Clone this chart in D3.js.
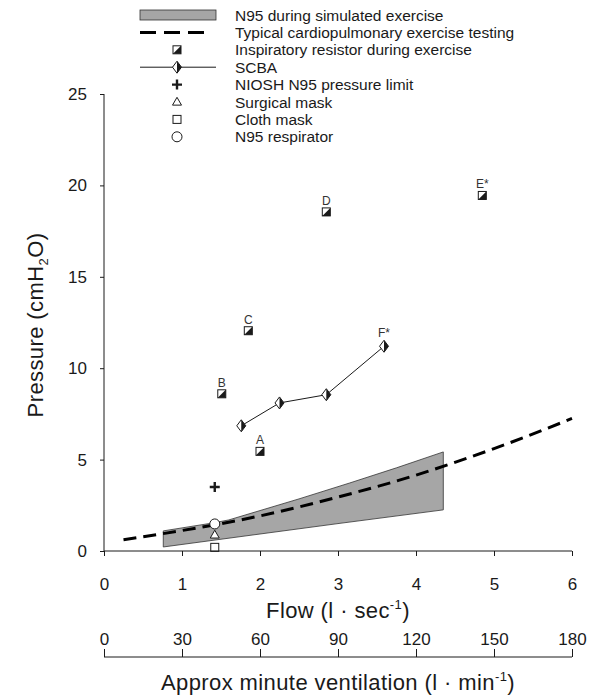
<!DOCTYPE html>
<html>
<head>
<meta charset="utf-8">
<script src="https://cdn.jsdelivr.net/npm/d3@7"></script>
<style>
  body { margin: 0; background: #fff; }
  svg { font-family: "Liberation Sans", Arial, sans-serif; }
</style>
</head>
<body>
<div id="chart"></div>
<script>
// Flow (l/s) vs pressure (cmH2O)
const bandUpper = [[0.76, 1.1], [1.42, 1.55], [1.6, 1.7], [2.5, 2.85], [3.15, 3.72], [3.75, 4.55], [4.35, 5.42]];
const bandLower = [[0.76, 0.22], [2.0, 0.93], [3.0, 1.5], [4.35, 2.25]];
const cpetCurve = [[0.25, 0.62], [1, 1.12], [2, 1.92], [3, 2.95], [4, 4.15], [5, 5.6], [6, 7.25]];
const resistorLabels = ["A", "B", "C", "D", "E*"];
const resistorFlow = [2.0, 1.51, 1.85, 2.85, 4.85];
const resistorPressure = [5.45, 8.6, 12.05, 18.55, 19.45];
const scbaFlow = [1.76, 2.25, 2.85, 3.59];
const scbaPressure = [6.85, 8.1, 8.55, 11.2];
const scbaLabel = "F*";
const nioshPoint = [1.42, 3.5];
const surgicalPoint = [1.42, 0.88];
const clothPoint = [1.42, 0.2];
const n95Point = [1.42, 1.48];
const flowTicks = [0, 1, 2, 3, 4, 5, 6];
const ventTicks = [0, 30, 60, 90, 120, 150, 180];
const pressureTicks = [0, 5, 10, 15, 20, 25];
const legendLabels = [
  "N95 during simulated exercise",
  "Typical cardiopulmonary exercise testing",
  "Inspiratory resistor during exercise",
  "SCBA",
  "NIOSH N95 pressure limit",
  "Surgical mask",
  "Cloth mask",
  "N95 respirator"
];

const width = 590, height = 699;
const ink = "#1a1a1a";

const svg = d3.select("#chart").append("svg")
  .attr("width", width).attr("height", height);

const x = d3.scaleLinear().domain([0, 6]).range([104, 572]);
const x2 = d3.scaleLinear().domain([0, 180]).range([104, 572]);
const y = d3.scaleLinear().domain([0, 25]).range([551, 94]);

// marker helpers
function halfSquare(g, cx, cy, s) {
  g.append("rect").attr("x", cx - s / 2).attr("y", cy - s / 2)
    .attr("width", s).attr("height", s)
    .attr("fill", "#fff").attr("stroke", ink).attr("stroke-width", 1);
  g.append("path")
    .attr("d", `M${cx + s / 2},${cy - s / 2}L${cx + s / 2},${cy + s / 2}L${cx - s / 2},${cy + s / 2}Z`)
    .attr("fill", ink);
}
function halfDiamond(g, cx, cy, w, h) {
  g.append("path")
    .attr("d", `M${cx},${cy - h / 2}L${cx + w / 2},${cy}L${cx},${cy + h / 2}L${cx - w / 2},${cy}Z`)
    .attr("fill", "#fff").attr("stroke", ink).attr("stroke-width", 1);
  g.append("path")
    .attr("d", `M${cx},${cy - h / 2}L${cx + w / 2},${cy}L${cx},${cy + h / 2}Z`)
    .attr("fill", ink);
}
function plus(g, cx, cy, s) {
  g.append("path")
    .attr("d", `M${cx - s / 2},${cy}H${cx + s / 2}M${cx},${cy - s / 2}V${cy + s / 2}`)
    .attr("stroke", ink).attr("stroke-width", 2.4);
}
function triangle(g, cx, cy, s) {
  const h = s * 0.87;
  g.append("path")
    .attr("d", `M${cx},${cy - h * 0.6}L${cx + s / 2},${cy + h * 0.4}L${cx - s / 2},${cy + h * 0.4}Z`)
    .attr("fill", "#fff").attr("stroke", ink).attr("stroke-width", 1);
}
function openSquare(g, cx, cy, s) {
  g.append("rect").attr("x", cx - s / 2).attr("y", cy - s / 2)
    .attr("width", s).attr("height", s)
    .attr("fill", "#fff").attr("stroke", ink).attr("stroke-width", 1);
}
function openCircle(g, cx, cy, r) {
  g.append("circle").attr("cx", cx).attr("cy", cy).attr("r", r)
    .attr("fill", "#fff").attr("stroke", ink).attr("stroke-width", 1);
}

// gray band
const bandPts = bandUpper.concat(bandLower.slice().reverse());
svg.append("path")
  .attr("d", d3.line().x(d => x(d[0])).y(d => y(d[1]))(bandPts) + "Z")
  .attr("fill", "#a6a6a6").attr("stroke", "#333").attr("stroke-width", 0.8);

// dashed CPET curve
svg.append("path")
  .attr("d", d3.line().x(d => x(d[0])).y(d => y(d[1])).curve(d3.curveMonotoneX)(cpetCurve))
  .attr("fill", "none").attr("stroke", "#000").attr("stroke-width", 3)
  .attr("stroke-dasharray", "13,7");

// SCBA line
svg.append("path")
  .attr("d", d3.line().x((d, i) => x(scbaFlow[i])).y((d, i) => y(scbaPressure[i]))(scbaFlow))
  .attr("fill", "none").attr("stroke", ink).attr("stroke-width", 1);

const marks = svg.append("g");
scbaFlow.forEach((f, i) => halfDiamond(marks, x(f), y(scbaPressure[i]), 9, 12));
marks.append("text")
  .attr("x", x(scbaFlow[scbaFlow.length - 1])).attr("y", y(scbaPressure[scbaPressure.length - 1]) - 9)
  .attr("text-anchor", "middle").attr("font-size", 12).attr("fill", "#333").text(scbaLabel);

resistorFlow.forEach((f, i) => {
  halfSquare(marks, x(f), y(resistorPressure[i]), 8);
  marks.append("text")
    .attr("x", x(f)).attr("y", y(resistorPressure[i]) - 7)
    .attr("text-anchor", "middle").attr("font-size", 12).attr("fill", "#333")
    .text(resistorLabels[i]);
});

plus(marks, x(nioshPoint[0]), y(nioshPoint[1]), 10);
openSquare(marks, x(clothPoint[0]), y(clothPoint[1]), 8);
triangle(marks, x(surgicalPoint[0]), y(surgicalPoint[1]), 9);
openCircle(marks, x(n95Point[0]), y(n95Point[1]), 5);

// axes
const axisG = svg.append("g");
axisG.append("g").attr("transform", `translate(0,${y(0)})`)
  .call(d3.axisBottom(x).tickValues(flowTicks).tickFormat(d3.format("d")).tickSize(5).tickPadding(22))
  .call(g => g.select(".domain").attr("d", `M${x(0)},0H${x(6)}`));
axisG.append("g").attr("transform", `translate(${x(0)},0)`)
  .call(d3.axisLeft(y).tickValues(pressureTicks).tickSize(4).tickPadding(13))
  .call(g => g.select(".domain").attr("d", `M0,${y(25)}V${y(0)}`));
axisG.append("g").attr("transform", `translate(0,657)`)
  .call(d3.axisTop(x2).tickValues(ventTicks).tickSize(8).tickPadding(4))
  .call(g => g.select(".domain").attr("d", `M${x2(0)},0H${x2(180)}`));
svg.selectAll(".tick text").attr("font-size", 17).attr("fill", ink)
  .attr("font-family", "'Liberation Sans', Arial, sans-serif");
svg.selectAll(".domain, .tick line").attr("stroke", ink);

// axis titles
const t1 = svg.append("text").attr("x", 338).attr("y", 618).attr("text-anchor", "middle")
  .attr("font-size", 22).attr("letter-spacing", 0.4).attr("fill", ink);
t1.append("tspan").text("Flow (l \u00b7 sec");
t1.append("tspan").attr("font-size", 13).attr("dy", -9).text("-1");
t1.append("tspan").attr("dy", 9).text(")");

const t2 = svg.append("text").attr("x", 338).attr("y", 690).attr("text-anchor", "middle")
  .attr("font-size", 22).attr("letter-spacing", 0.4).attr("fill", ink);
t2.append("tspan").text("Approx minute ventilation (l \u00b7 min");
t2.append("tspan").attr("font-size", 13).attr("dy", -9).text("-1");
t2.append("tspan").attr("dy", 9).text(")");

const t3 = svg.append("text").attr("transform", "translate(43,325) rotate(-90)")
  .attr("text-anchor", "middle").attr("font-size", 22).attr("letter-spacing", 0.4).attr("fill", ink);
t3.append("tspan").text("Pressure (cmH");
t3.append("tspan").attr("font-size", 13).attr("dy", 5).text("2");
t3.append("tspan").attr("dy", -5).text("O)");

// legend
const legend = svg.append("g");
const rowY = i => 15 + i * 17.4;
const mx = 177;
legend.append("rect").attr("x", 140).attr("y", rowY(0) - 5).attr("width", 76).attr("height", 10)
  .attr("fill", "#a6a6a6").attr("stroke", "#333").attr("stroke-width", 0.8);
legend.append("line").attr("x1", 140).attr("x2", 210).attr("y1", rowY(1)).attr("y2", rowY(1))
  .attr("stroke", "#000").attr("stroke-width", 3).attr("stroke-dasharray", "16,8");
halfSquare(legend, mx, rowY(2), 8);
legend.append("line").attr("x1", 140).attr("x2", 216).attr("y1", rowY(3)).attr("y2", rowY(3))
  .attr("stroke", ink).attr("stroke-width", 1);
halfDiamond(legend, mx, rowY(3), 9, 12);
plus(legend, mx, rowY(4), 10);
triangle(legend, mx, rowY(5), 9);
openSquare(legend, mx, rowY(6), 8);
openCircle(legend, mx, rowY(7), 5);
legend.selectAll("text.lbl").data(legendLabels).join("text").attr("class", "lbl")
  .attr("x", 235).attr("y", (d, i) => rowY(i)).attr("dy", "0.36em")
  .attr("font-size", 15.5).attr("fill", ink).text(d => d);
</script>
</body>
</html>
